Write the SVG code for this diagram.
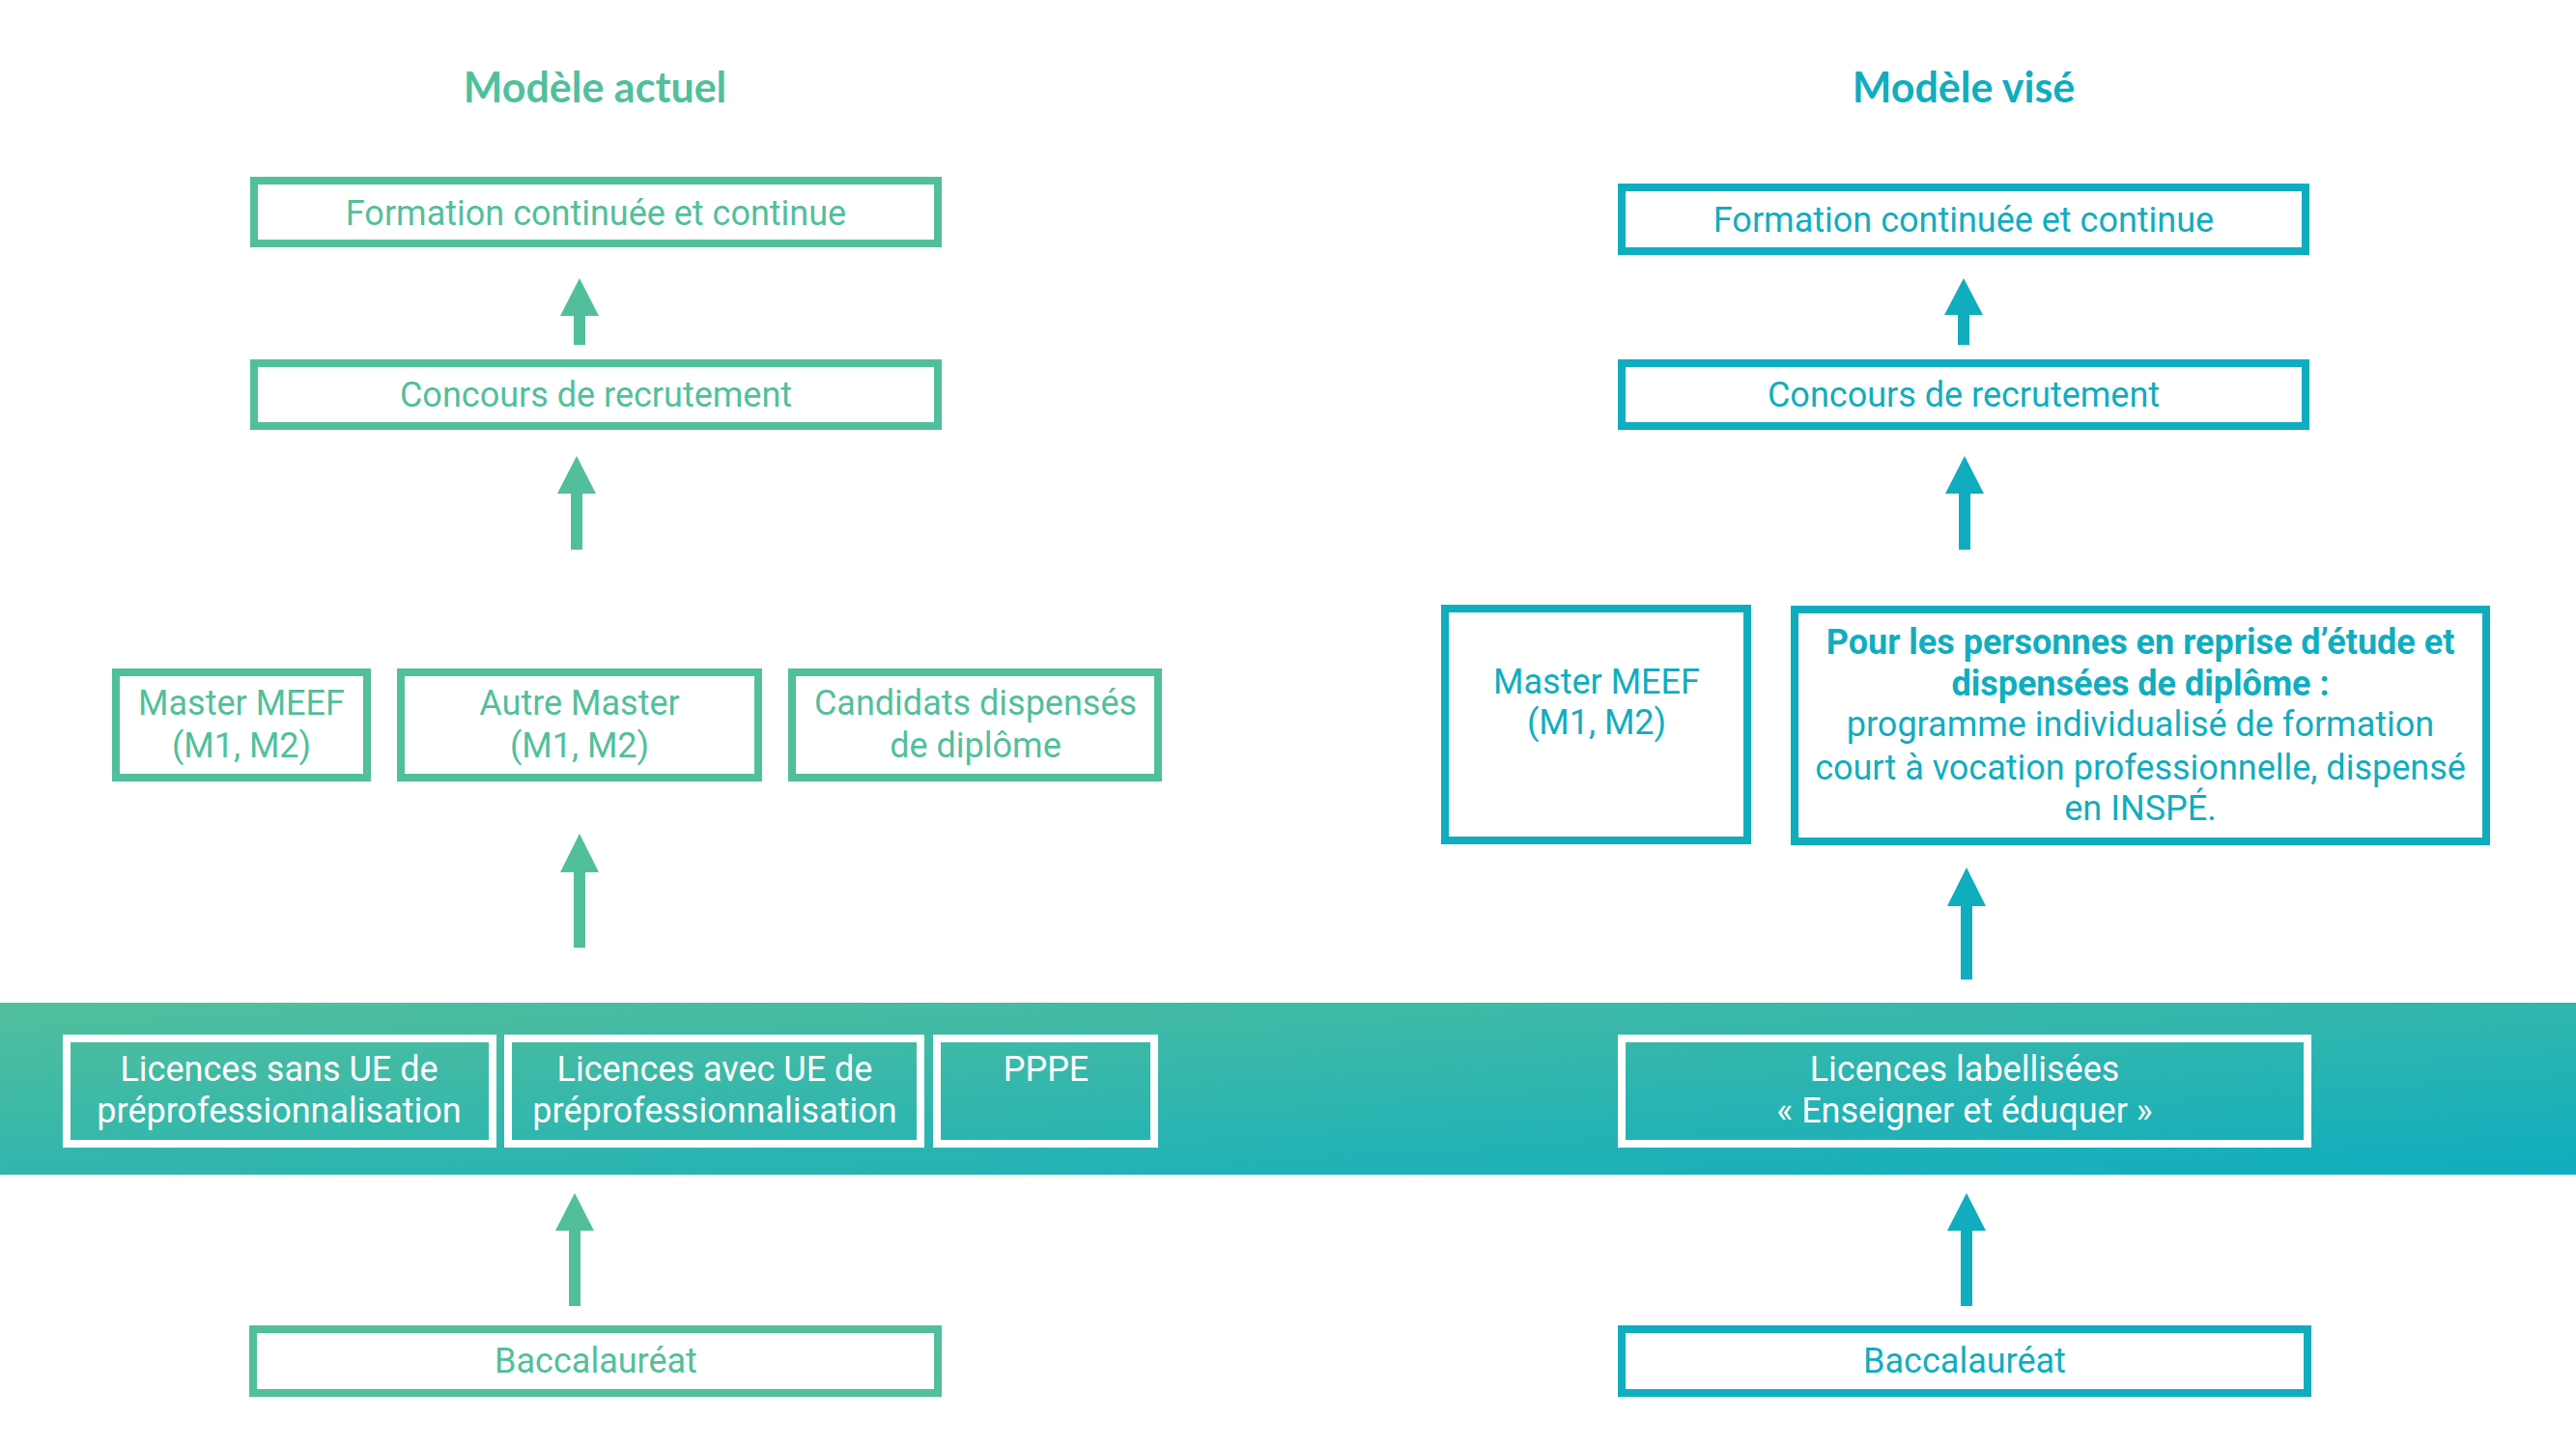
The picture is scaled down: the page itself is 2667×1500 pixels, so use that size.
<svg xmlns="http://www.w3.org/2000/svg" width="2667" height="1500" viewBox="0 0 2667 1500">
<defs>
<linearGradient id="band" x1="0" y1="0" x2="1" y2="1" gradientUnits="objectBoundingBox">
<stop offset="0" stop-color="#52bf9c"/>
<stop offset="1" stop-color="#0fadbf"/>
</linearGradient>
<style>
.g{fill:none;stroke:#52bf9c;stroke-width:8}
.t{fill:none;stroke:#10adbf;stroke-width:8}
.w{fill:none;stroke:#ffffff;stroke-width:8}
text{font-family:Roboto,"Liberation Sans",sans-serif;font-size:36px;font-weight:normal;text-anchor:middle}
.tg{fill:#52bf9c}
.tt{fill:#10adbf}
.tw{fill:#ffffff}
.title{font-family:Lato,"Open Sans",sans-serif;font-weight:bold;font-size:43px}
.b{font-weight:bold}
.ag{fill:#52bf9c}
.at{fill:#10adbf}
</style>
</defs>
<rect x="0" y="1038" width="2667" height="178" fill="url(#band)"/>
<text class="title tg" x="616" y="106">Modèle actuel</text>
<text class="title tt" x="2033" y="106">Modèle visé</text>
<g id="connectors">
<path class="ag" d="M600 288 L620 327 L606 327 L606 357 L594 357 L594 327 L580 327 Z"/>
<path class="ag" d="M597 472 L617 511 L603 511 L603 569 L591 569 L591 511 L577 511 Z"/>
<path class="ag" d="M600 863 L620 903 L606 903 L606 981 L594 981 L594 903 L580 903 Z"/>
<path class="ag" d="M595 1235 L615 1274 L601 1274 L601 1352 L589 1352 L589 1274 L575 1274 Z"/>
<path class="at" d="M2033 288 L2053 326 L2039 326 L2039 357 L2027 357 L2027 326 L2013 326 Z"/>
<path class="at" d="M2034 472 L2054 511 L2040 511 L2040 569 L2028 569 L2028 511 L2014 511 Z"/>
<path class="at" d="M2036 898 L2056 938 L2042 938 L2042 1014 L2030 1014 L2030 938 L2016 938 Z"/>
<path class="at" d="M2036 1235 L2056 1274 L2042 1274 L2042 1352 L2030 1352 L2030 1274 L2016 1274 Z"/>
</g>
<g id="l-formation"><rect class="g" x="263" y="187" width="708" height="65"/><text class="tg" x="617" y="233">Formation continuée et continue</text></g>
<g id="l-concours"><rect class="g" x="263" y="376" width="708" height="65"/><text class="tg" x="617" y="421">Concours de recrutement</text></g>
<g id="l-meef"><rect class="g" x="120" y="696" width="260" height="109"/><text class="tg" x="250" y="740">Master MEEF</text><text class="tg" x="250" y="784">(M1, M2)</text></g>
<g id="l-autre"><rect class="g" x="415" y="696" width="370" height="109"/><text class="tg" x="600" y="740">Autre Master</text><text class="tg" x="600" y="784">(M1, M2)</text></g>
<g id="l-candidats"><rect class="g" x="820" y="696" width="379" height="109"/><text class="tg" x="1010" y="740">Candidats dispensés</text><text class="tg" x="1010" y="784">de diplôme</text></g>
<g id="l-sans"><rect class="w" x="69" y="1075" width="441" height="109"/><text class="tw" x="289" y="1119">Licences sans UE de</text><text class="tw" x="289" y="1162">préprofessionnalisation</text></g>
<g id="l-avec"><rect class="w" x="526" y="1075" width="427" height="109"/><text class="tw" x="740" y="1119">Licences avec UE de</text><text class="tw" x="740" y="1162">préprofessionnalisation</text></g>
<g id="l-pppe"><rect class="w" x="970" y="1075" width="225" height="109"/><text class="tw" x="1083" y="1119">PPPE</text></g>
<g id="l-bac"><rect class="g" x="262" y="1376" width="709" height="66"/><text class="tg" x="617" y="1421">Baccalauréat</text></g>
<g id="r-formation"><rect class="t" x="1679" y="194" width="708" height="66"/><text class="tt" x="2033" y="240">Formation continuée et continue</text></g>
<g id="r-concours"><rect class="t" x="1679" y="376" width="708" height="65"/><text class="tt" x="2033" y="421">Concours de recrutement</text></g>
<g id="r-meef"><rect class="t" x="1496" y="630" width="313" height="240"/><text class="tt" x="1653" y="718">Master MEEF</text><text class="tt" x="1653" y="760">(M1, M2)</text></g>
<g id="r-prog"><rect class="t" x="1858" y="631" width="716" height="240"/><text class="tt b" x="2216" y="677">Pour les personnes en reprise d’étude et</text><text class="tt b" x="2216" y="720">dispensées de diplôme :</text><text class="tt" x="2216" y="762">programme individualisé de formation</text><text class="tt" x="2216" y="807">court à vocation professionnelle, dispensé</text><text class="tt" x="2216" y="849">en INSPÉ.</text></g>
<g id="r-licences"><rect class="w" x="1679" y="1075" width="710" height="109"/><text class="tw" x="2034" y="1119">Licences labellisées</text><text class="tw" x="2034" y="1162">« Enseigner et éduquer »</text></g>
<g id="r-bac"><rect class="t" x="1679" y="1376" width="710" height="66"/><text class="tt" x="2034" y="1421">Baccalauréat</text></g>
</svg>
